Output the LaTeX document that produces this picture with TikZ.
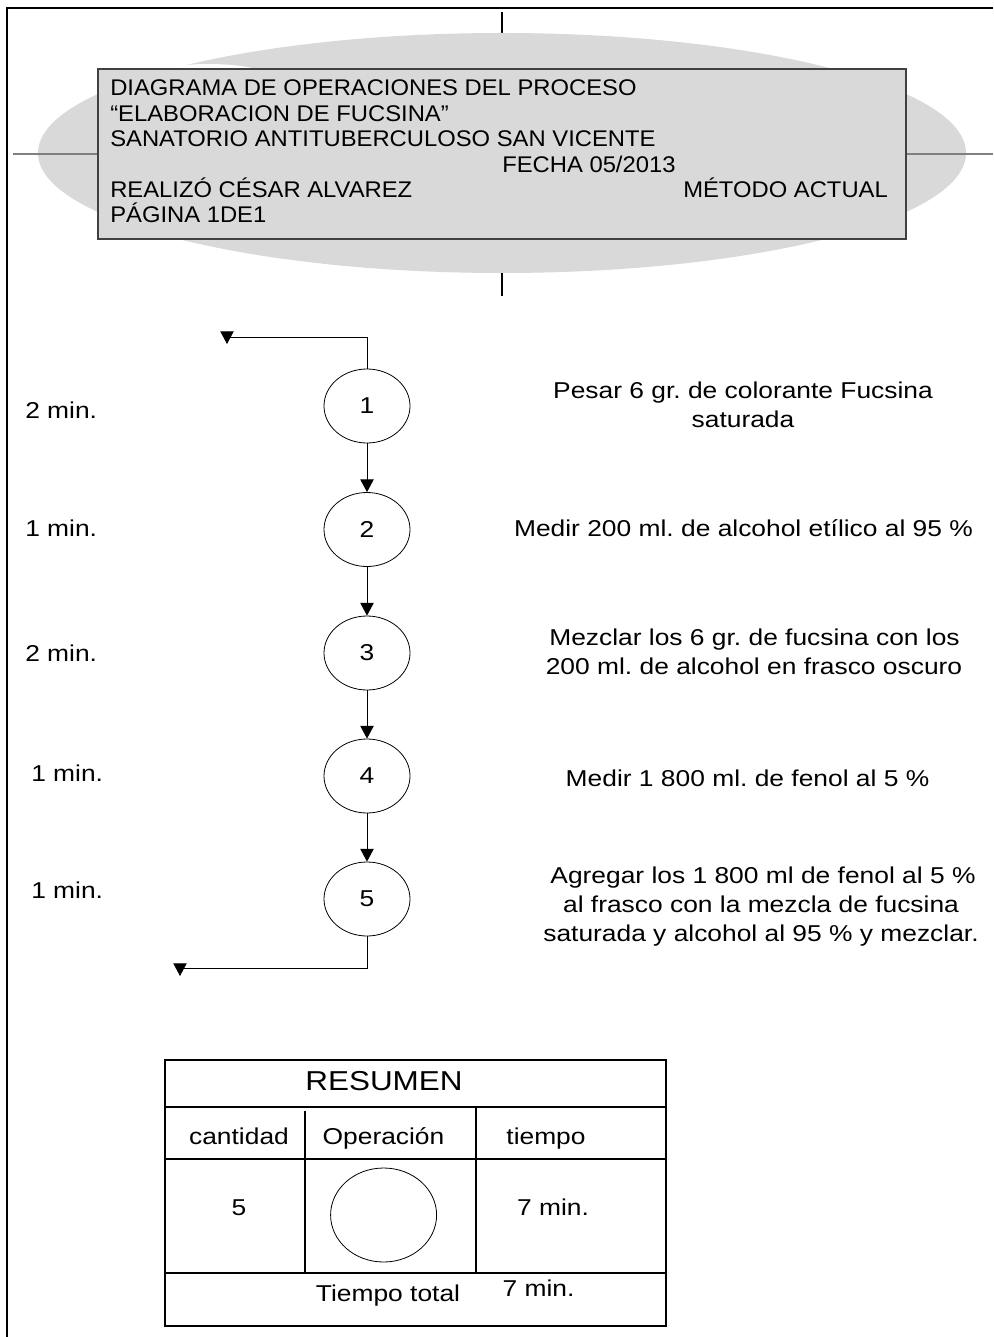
\documentclass[tikz,border=0pt]{standalone}
\usepackage{fontspec}
\setmainfont{Liberation Sans}
\newfontfamily\hdrfamily{Liberation Sans}[FakeStretch=1.05]
\newfontfamily\txtfamily{Liberation Sans}[FakeStretch=1.15]
\usetikzlibrary{shapes.geometric,arrows.meta}
\newcommand\hdrtxt{\hdrfamily\fontsize{17pt}{20pt}\selectfont}
\newcommand\bodytxt{\txtfamily\fontsize{17.2pt}{20pt}\selectfont}
\newcommand\titletxt{\txtfamily\fontsize{20.5pt}{24pt}\selectfont}
\frenchspacing
\begin{document}
\begin{tikzpicture}[x=0.75pt,y=-0.75pt,
  hdr/.style={font=\hdrtxt,inner sep=0pt,anchor=base west},
  lbl/.style={font=\bodytxt,inner sep=0pt,anchor=base west},
  desc/.style={font=\bodytxt,inner sep=0pt,anchor=base},
  cell/.style={font=\bodytxt,inner sep=0pt,anchor=base},
  opnode/.style={ellipse,draw,line width=0.6pt,minimum width=64.5pt,minimum height=55.5pt,inner sep=0pt,font=\bodytxt},
  flow/.style={line width=0.7pt,-{Triangle[width=10pt,length=9.5pt]}},
  tabline/.style={line width=1.3pt},
  headgray/.style={fill=black!15}]
\useasboundingbox (0,0) rectangle (994,1337);

% page frame
\draw[line width=1.6pt] (7,1337) -- (7,8) -- (993,8);

% header emblem: crosshair and grey crescent ellipse
\draw[line width=0.8pt] (502,12) -- (502,296);
\fill[headgray] (502,153) ellipse [x radius=464, y radius=120];
\fill[white] (209,81) ellipse [x radius=67, y radius=17];
\draw[line width=1.6pt,black!50] (13,154) -- (993,154);
\draw[headgray,draw=black!75,line width=0.8pt] (98,69) rectangle (906,239);

% header text
\node[hdr] (h1) at (110,96) {DIAGRAMA DE OPERACIONES DEL PROCESO};
\node[hdr] (h2) at (110,122) {“ELABORACION DE FUCSINA”};
\node[hdr] (h3) at (110,147) {SANATORIO ANTITUBERCULOSO SAN VICENTE};
\node[hdr] (h4) at (502,172.5) {FECHA 05/2013};
\node[hdr] (h5) at (110,197.5) {REALIZÓ CÉSAR ALVAREZ};
\node[hdr] (h6) at (683,197.5) {MÉTODO ACTUAL};
\node[hdr] (h7) at (110,222.5) {PÁGINA 1DE1};

% operations
\node[opnode] (n1) at (367,406) {1};
\node[opnode] (n2) at (367,529.5) {2};
\node[opnode] (n3) at (367,653) {3};
\node[opnode] (n4) at (367,776) {4};
\node[opnode] (n5) at (367,899) {5};

\coordinate (topcorner) at (227,337);
\coordinate (topend) at (227,344);
\coordinate (botcorner) at (180,968);
\coordinate (botend) at (180,976);

\draw[flow] (n1.north) |- (topcorner) -- (topend);
\draw[flow] (n1) -- (n2);
\draw[flow] (n2) -- (n3);
\draw[flow] (n3) -- (n4);
\draw[flow] (n4) -- (n5);
\draw[flow] (n5.south) |- (botcorner) -- (botend);

% times
\node[lbl] (t1) at (25,418) {2 min.};
\node[lbl] (t2) at (25,536) {1 min.};
\node[lbl] (t3) at (25,661) {2 min.};
\node[lbl] (t4) at (31,781) {1 min.};
\node[lbl] (t5) at (31,898) {1 min.};

% descriptions
\node[desc] (d1a) at (743,398) {Pesar 6 gr. de colorante Fucsina};
\node[desc] (d1b) at (743,427) {saturada};
\node[desc] (d2) at (743.5,536) {Medir 200 ml. de alcohol etílico al 95 \%};
\node[desc] (d3a) at (754.5,645) {Mezclar los 6 gr. de fucsina con los};
\node[desc] (d3b) at (754,674) {200 ml. de alcohol en frasco oscuro};
\node[desc] (d4) at (747.5,786) {Medir 1 800 ml. de fenol al 5 \%};
\node[desc] (d5a) at (763,883) {Agregar los 1 800 ml de fenol al 5 \%};
\node[desc] (d5b) at (761,912) {al frasco con la mezcla de fucsina};
\node[desc] (d5c) at (761,941) {saturada y alcohol al 95 \% y mezclar.};

% summary table
\draw[tabline] (165,1060) rectangle (666,1326);
\draw[tabline] (165,1107) -- (666,1107);
\draw[tabline] (165,1159) -- (666,1159);
\draw[tabline] (165,1273) -- (666,1273);
\draw[tabline] (305,1111) -- (305,1273);
\draw[tabline] (476,1107) -- (476,1273);

\node[cell,font=\titletxt] (res) at (384,1090.5) {RESUMEN};
\node[cell] (c1) at (239,1144.6) {cantidad};
\node[cell] (c2) at (383.5,1144.6) {Operación};
\node[cell] (c3) at (546,1144.6) {tiempo};
\node[cell] (v1) at (239,1215.5) {5};
\node[ellipse,draw,line width=0.6pt,minimum width=79.5pt,minimum height=70.5pt,inner sep=0pt] (vop) at (383.6,1215) {};
\node[cell] (v3) at (553,1215.5) {7 min.};
\node[cell] (tt) at (388,1301.7) {Tiempo total};
\node[cell] (ttv) at (538.5,1296.6) {7 min.};
\end{tikzpicture}
\end{document}
